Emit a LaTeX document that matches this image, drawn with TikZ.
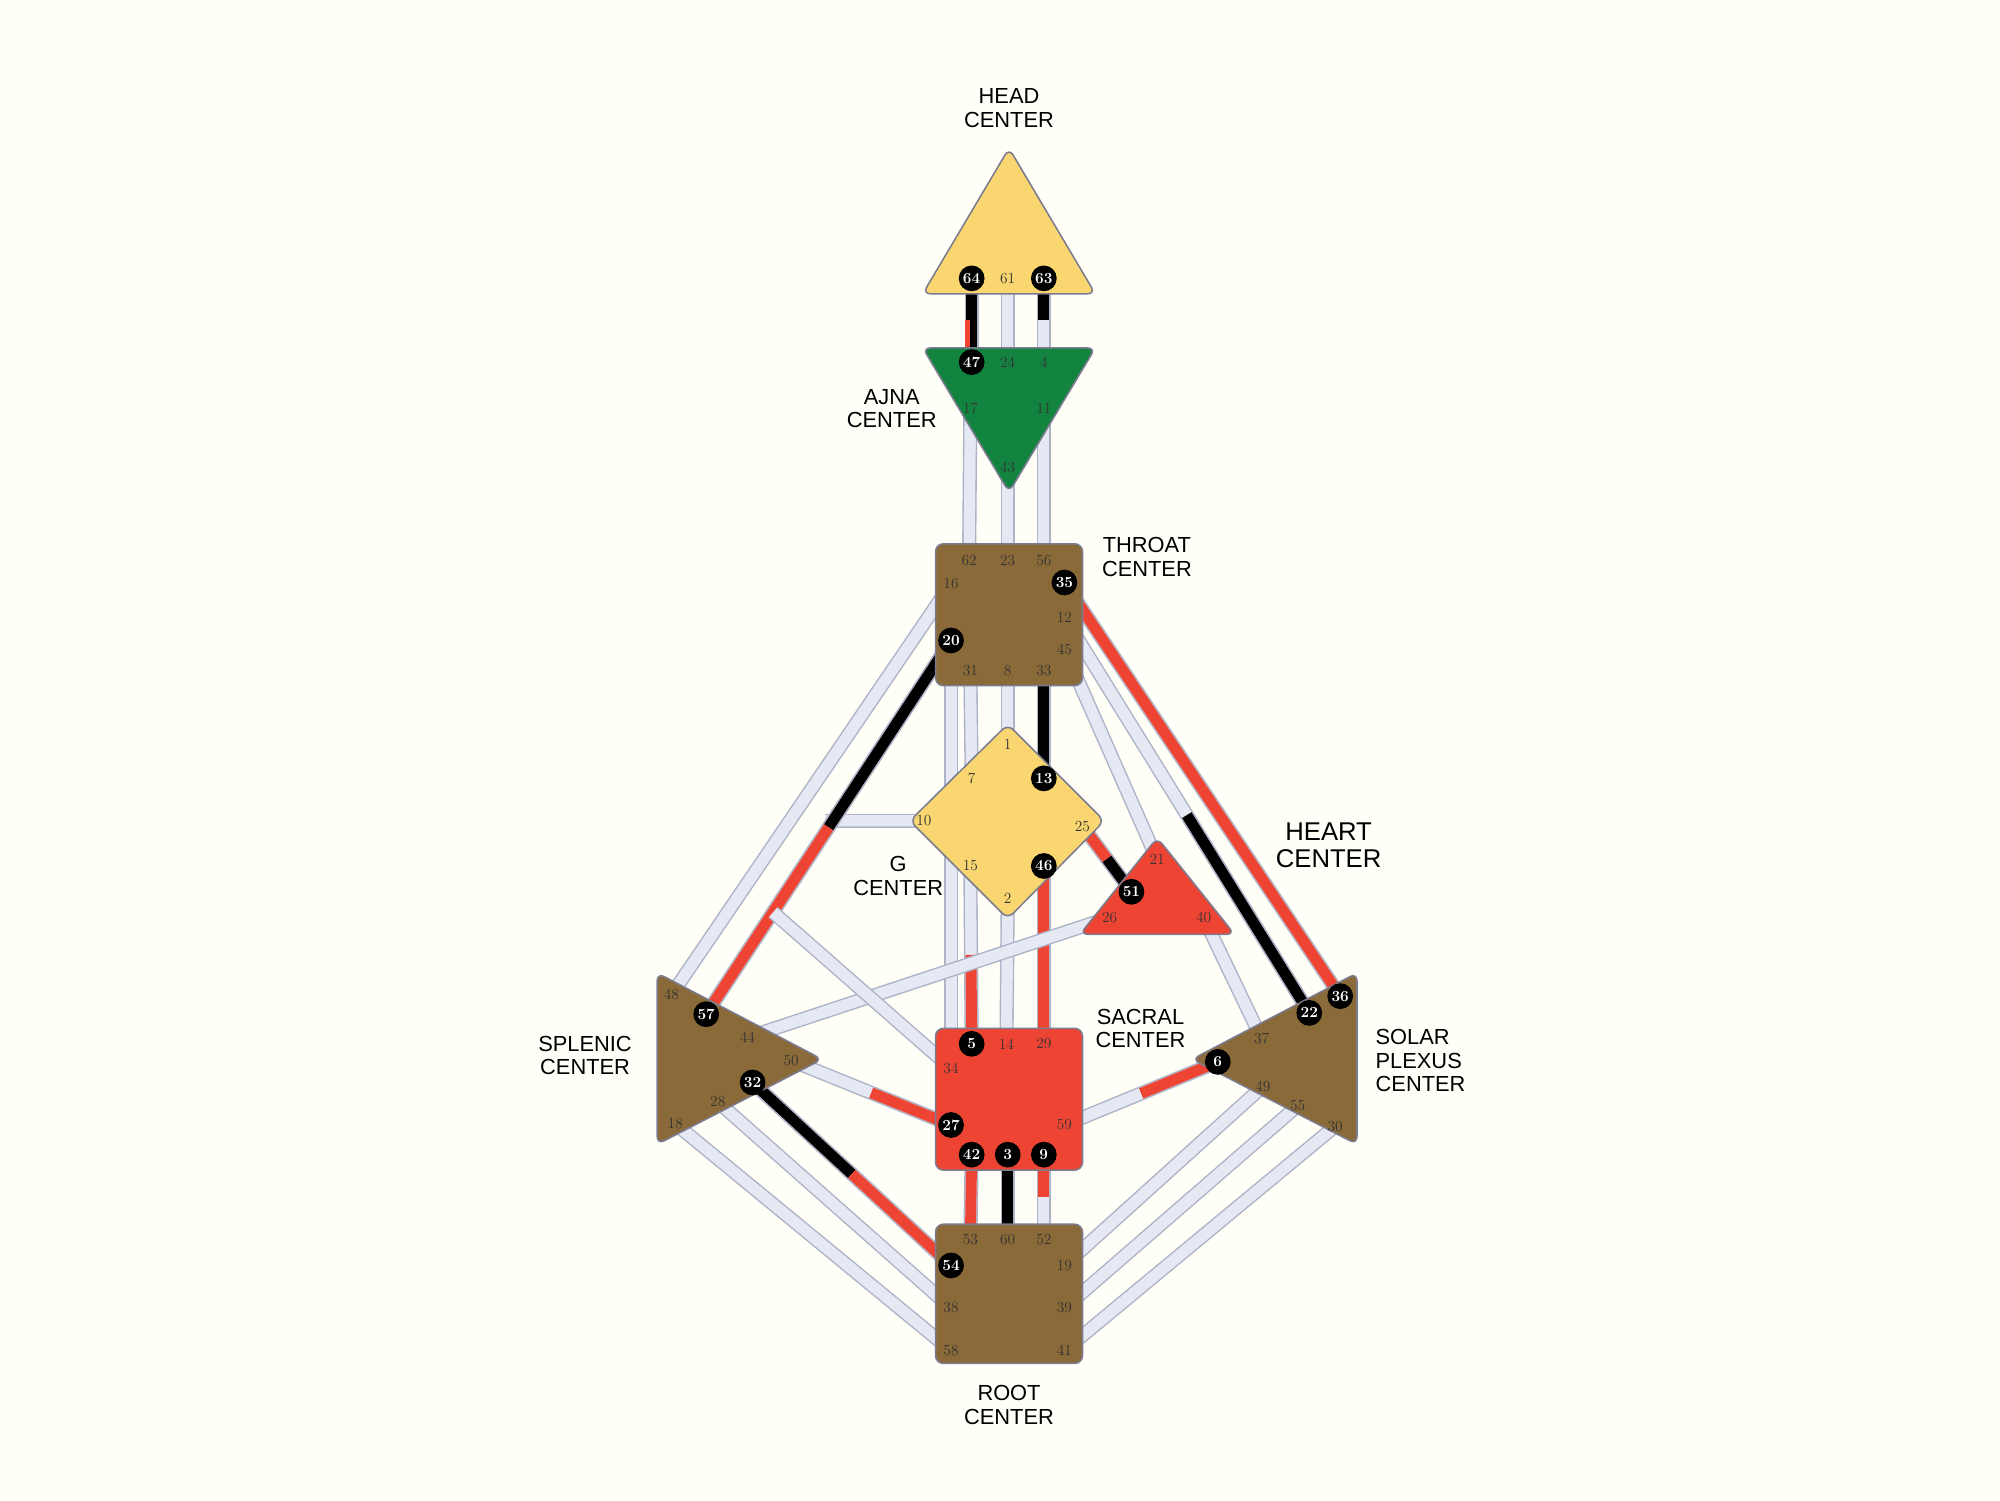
\documentclass[tikz,border=0pt]{standalone}
\usepackage{fontspec}
\newfontfamily\labfont{Liberation Sans}
\usetikzlibrary{calc}
\definecolor{bg}{HTML}{FFFEF7}
\definecolor{cyel}{HTML}{F9D66F}
\definecolor{cgrn}{HTML}{13843F}
\definecolor{cbrn}{HTML}{8A6A38}
\definecolor{cred}{HTML}{EE4434}
\definecolor{chw}{HTML}{E6E9F4}
\definecolor{chg}{HTML}{AEB4C8}
\definecolor{ol}{HTML}{7C7C90}
\tikzset{
 chbase/.style={line width=11bp,chg},
 chfill/.style={line width=8.5bp,chw},
 center/.style={draw=ol,line width=1.2bp,rounded corners=6bp},
 gl/.style={font=\fontsize{12}{12}\selectfont,text=black!80},
 ga/.style={circle,fill=black,inner sep=0pt,minimum size=20bp,text=white,font=\fontsize{12}{12}\selectfont\bfseries},
 lab/.style={font=\labfont\fontsize{17}{18.5}\selectfont,align=center}
}
\newcommand\chan[4]{%
 \draw[chbase] (#1)--(#2); \draw[chfill] (#1)--(#2);
 \draw[line width=8.5bp,#3] (#1)--($(#1)!0.5!(#2)$);
 \draw[line width=8.5bp,#4] ($(#1)!0.5!(#2)$)--(#2);}
\begin{document}
\begin{tikzpicture}[x=1bp,y=-1bp]
\fill[bg] (0,0) rectangle (1552,1164);
\useasboundingbox (0,0) rectangle (1552,1164);
\foreach \n/\x/\y in {64/754/216,61/782/216,63/810/216,
 47/754/281,24/782/281,4/810/281,17/753/317,11/810/317,43/782/363,
 62/752/435,23/782/435,56/810/435,16/738/453,35/826/452,12/826/479,20/738/497,45/826/504,31/753/520,8/782/520,33/810/520,
 1/782/578,7/754/604,13/810/604,10/717/637,25/840/641,15/753/672,46/810/672,2/782/697,
 21/898/667,51/878/692,26/861/712,40/934/712,
 5/754/810,14/781/810,29/810/810,34/738/829,27/738/873,59/826/873,42/754/896,3/782/896,9/810/896,
 53/753/962,60/782/962,52/810/962,54/738/982,19/826/982,38/738/1015,39/826/1015,58/738/1048,41/826/1048,
 48/521/772,57/548/787,44/580/805,50/614/823,32/584/840,28/557/855,18/524/872,
 36/1040/773,22/1016/786,37/979/806,6/945/824,49/980/843,55/1007/858,30/1036/874}
 {\coordinate (g\n) at (\x,\y);}
\coordinate (xa) at (600,708);
\coordinate (xb) at (640,637);
\chan{g64}{g47}{black}{black}
\draw[line width=4bp,cred] ($(g64)!0.5!(g47)+(-3,0)$)--($(g47)+(-3,-8)$);
\chan{g61}{g24}{chw}{chw}
\chan{g63}{g4}{black}{chw}
\chan{g17}{g62}{chw}{chw}
\chan{g43}{g23}{chw}{chw}
\chan{g11}{g56}{chw}{chw}
\chan{g16}{g48}{chw}{chw}
\chan{g20}{g34}{chw}{chw}
\chan{g10}{xb}{chw}{chw}
\chan{g20}{g57}{black}{cred}
\chan{g31}{g7}{chw}{chw}
\chan{g8}{g1}{chw}{chw}
\chan{g33}{g13}{black}{black}
\chan{g35}{g36}{cred}{cred}
\chan{g12}{g22}{chw}{black}
\chan{g45}{g21}{chw}{chw}
\chan{g25}{g51}{cred}{black}
\chan{g15}{g5}{chw}{cred}
\chan{g2}{g14}{chw}{chw}
\chan{g46}{g29}{cred}{cred}
\chan{g26}{g44}{chw}{chw}
\chan{g40}{g37}{chw}{chw}
\chan{g50}{g27}{chw}{cred}
\chan{g32}{g54}{black}{cred}
\chan{g28}{g38}{chw}{chw}
\chan{g18}{g58}{chw}{chw}
\chan{xa}{g34}{chw}{chw}
\chan{g59}{g6}{chw}{cred}
\chan{g42}{g53}{cred}{cred}
\chan{g3}{g60}{black}{black}
\chan{g9}{g52}{cred}{chw}
\chan{g19}{g49}{chw}{chw}
\chan{g39}{g55}{chw}{chw}
\chan{g41}{g30}{chw}{chw}
\draw[center,fill=cyel] (783,115)--(850,228)--(716,228)--cycle;
\draw[center,fill=cgrn] (716,270)--(850,270)--(783,382)--cycle;
\draw[center,fill=cbrn] (726,422) rectangle (840,532);
\draw[center,fill=cyel] (782,562)--(857,637)--(782,713)--(706,637)--cycle;
\draw[center,fill=cred] (898,650)--(958,725)--(838,725)--cycle;
\draw[center,fill=cred] (726,798) rectangle (840,908);
\draw[center,fill=cbrn] (726,950) rectangle (840,1058);
\draw[center,fill=cbrn] (510,755)--(638,822)--(510,888)--cycle;
\draw[center,fill=cbrn] (1053,755)--(925,822)--(1053,888)--cycle;
\foreach \n in {61,24,4,17,11,43,62,23,56,16,12,45,31,8,33,1,7,10,25,15,2,21,26,40,14,29,34,59,53,60,52,19,38,39,58,41,48,44,50,28,18,37,49,55,30}
 {\node[gl] (t\n) at (g\n) {\n};}
\foreach \n in {64,63,47,35,20,13,46,51,5,27,42,3,9,54,57,32,36,22,6}
 {\node[ga] (a\n) at (g\n) {\n};}
\node[lab] (lhead) at (783,84) {HEAD\\CENTER};
\node[lab] (lajna) at (692,317) {AJNA\\CENTER};
\node[lab] (lthroat) at (890,432) {THROAT\\CENTER};
\node[lab,font=\labfont\fontsize{20}{21}\selectfont] (lheart) at (1031,656) {HEART\\CENTER};
\node[lab] (lg) at (697,680) {G\\CENTER};
\node[lab] (lsacral) at (885,798) {SACRAL\\CENTER};
\node[lab] (lspl) at (454,819) {SPLENIC\\CENTER};
\node[lab,align=left,anchor=west] (lsp) at (1064,823) {SOLAR\\PLEXUS\\CENTER};
\node[lab] (lroot) at (783,1090) {ROOT\\CENTER};
\end{tikzpicture}
\end{document}
